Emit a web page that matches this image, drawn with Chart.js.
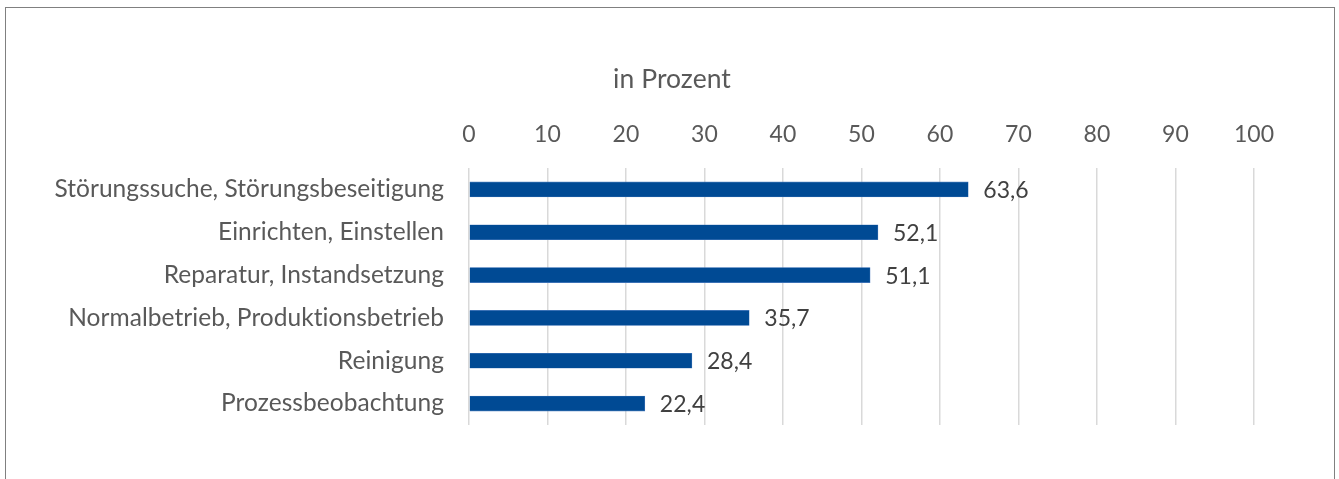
<!DOCTYPE html>
<html>
<head>
<meta charset="utf-8">
<script src="https://cdn.jsdelivr.net/npm/chart.js@4/dist/chart.umd.min.js"></script>
<style>
  html, body { margin: 0; padding: 0; background: #ffffff; }
  #wrap { position: relative; width: 1339px; height: 479px; overflow: hidden; }
  #frame { position: absolute; left: 5px; top: 7px; width: 1330px; height: 500px; border: 1.5px solid #808080; box-sizing: border-box; }
  canvas { position: absolute; left: 0; top: 0; font-variant-ligatures: none; }
</style>
</head>
<body>
<div id="wrap">
  <div id="frame"></div>
  <canvas id="c" width="1339" height="479"></canvas>
</div>
<script>
const categories = [
  "Störungssuche, Störungsbeseitigung",
  "Einrichten, Einstellen",
  "Reparatur, Instandsetzung",
  "Normalbetrieb, Produktionsbetrieb",
  "Reinigung",
  "Prozessbeobachtung"
];
const values = [63.6, 52.1, 51.1, 35.7, 28.4, 22.4];
const valueLabels = ["63,6", "52,1", "51,1", "35,7", "28,4", "22,4"];
const axisTitle = "in Prozent";

const FONT = "Lato, 'Open Sans', sans-serif";

const noLigaturePlugin = {
  id: 'noLig',
  beforeDraw(chart) {
    if ('letterSpacing' in chart.ctx) chart.ctx.letterSpacing = '0.05px';
  }
};

const valueLabelPlugin = {
  id: 'valueLabels',
  afterDatasetsDraw(chart) {
    const ctx = chart.ctx;
    const meta = chart.getDatasetMeta(0);
    ctx.save();
    ctx.font = "23px " + FONT;
    ctx.fillStyle = "#404040";
    ctx.textAlign = "left";
    ctx.textBaseline = "middle";
    meta.data.forEach((bar, i) => {
      ctx.fillText(valueLabels[i], bar.x + 15, bar.y + 1);
    });
    ctx.restore();
  }
};

const titlePlugin = {
  id: 'centerTitle',
  afterDraw(chart) {
    const ctx = chart.ctx;
    ctx.save();
    ctx.font = "26.5px " + FONT;
    ctx.fillStyle = "#595959";
    ctx.textAlign = "center";
    ctx.textBaseline = "middle";
    ctx.fillText(axisTitle, 672, 79);
    ctx.restore();
  }
};

new Chart(document.getElementById('c'), {
  type: 'bar',
  data: {
    labels: categories,
    datasets: [{
      data: values,
      backgroundColor: '#004a94',
      borderColor: '#4f7fc0',
      borderWidth: 0.6,
      barThickness: 15
    }]
  },
  plugins: [noLigaturePlugin, valueLabelPlugin, titlePlugin],
  options: {
    indexAxis: 'y',
    responsive: false,
    animation: false,
    devicePixelRatio: 1,
    layout: { padding: { left: 0, right: 85, top: 102, bottom: 54 } },
    plugins: {
      legend: { display: false },
      tooltip: { enabled: false },
      title: { display: false }
    },
    scales: {
      x: {
        position: 'top',
        min: 0,
        max: 100,
        ticks: {
          stepSize: 10,
          color: '#595959',
          font: { family: FONT, size: 23 },
          padding: 20
        },
        grid: { color: '#d9d9d9', lineWidth: 1.5, drawTicks: false },
        border: { display: false },
        afterFit(scale) { scale.height = 66; }
      },
      y: {
        ticks: {
          color: '#595959',
          font: { family: FONT, size: 24.5 },
          padding: 25
        },
        grid: { display: false, drawTicks: false },
        border: { display: false },
        afterFit(scale) { scale.width = 469; }
      }
    }
  }
});
</script>
</body>
</html>
